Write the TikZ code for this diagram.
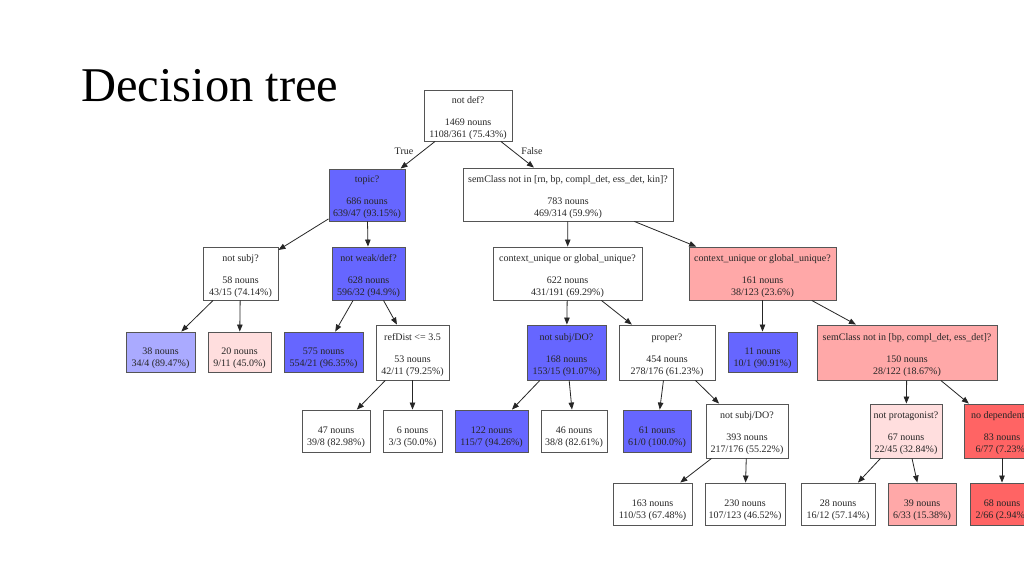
\documentclass[tikz,border=0pt]{standalone}
\usepackage{fontspec}
\setmainfont{Liberation Serif}
\usetikzlibrary{arrows.meta}
\definecolor{bluedark}{RGB}{102,102,255}
\definecolor{bluelight}{RGB}{170,170,255}
\definecolor{pinkpale}{RGB}{255,222,222}
\definecolor{pinkmid}{RGB}{255,168,168}
\definecolor{reddark}{RGB}{255,100,100}
\definecolor{boxline}{RGB}{85,85,85}
\newcommand{\qtop}{\rule{0pt}{11.5pt}}
\newcommand{\ltop}{\rule{0pt}{20pt}}
\tikzset{
  tbox/.style={draw=boxline, line width=0.9pt, fill=white, inner sep=1pt, align=center,
    font=\fontsize{10}{12}\selectfont, text=black!85},
  bl/.style={tbox, fill=bluedark},
  blt/.style={tbox, fill=bluelight},
  pp/.style={tbox, fill=pinkpale},
  pm/.style={tbox, fill=pinkmid},
  rd/.style={tbox, fill=reddark},
  edge/.style={draw=black!85, line width=0.8pt, -{Triangle[length=7pt,width=5.5pt]}},
  elab/.style={font=\fontsize{10}{12}\selectfont, text=black!85, inner sep=0pt},
  title/.style={font=\fontsize{48.5}{50}\selectfont, inner sep=0pt, anchor=base west}
}
\begin{document}
\begin{tikzpicture}[x=1pt,y=-1pt]
\useasboundingbox (0,0) rectangle (1024,576);
\clip (0,0) rectangle (1024,576);
\fill[white] (0,0) rectangle (1024,576);

\node[title] (ttl) at (81,101) {Decision tree};

% level 0
\node[tbox, minimum width=88, minimum height=51] (root) at (468,115.5)
  {\qtop not def?\\[10pt]1469 nouns\\1108/361 (75.43\%)};
% level 1
\node[bl, minimum width=76, minimum height=52] (topic) at (367,195)
  {\qtop topic?\\[10pt]686 nouns\\639/47 (93.15\%)};
\node[tbox, minimum width=210, minimum height=53] (sem1) at (568,194.5)
  {\qtop semClass not in [rn, bp, compl\_det, ess\_det, kin]?\\[10pt]783 nouns\\469/314 (59.9\%)};
% level 2
\node[tbox, minimum width=75, minimum height=53] (notsubj) at (240.5,273.5)
  {\qtop not subj?\\[10pt]58 nouns\\43/15 (74.14\%)};
\node[bl, minimum width=73, minimum height=53] (weakdef) at (368.5,273.5)
  {\qtop not weak/def?\\[10pt]628 nouns\\596/32 (94.9\%)};
\node[tbox, minimum width=149, minimum height=53] (ctx1) at (567.5,273.5)
  {\qtop context\_unique or global\_unique?\\[10pt]622 nouns\\431/191 (69.29\%)};
\node[pm, minimum width=147, minimum height=53] (ctx2) at (762.5,273.5)
  {\qtop context\_unique or global\_unique?\\[10pt]161 nouns\\38/123 (23.6\%)};
% level 3
\node[blt, minimum width=69, minimum height=40] (l38) at (160.5,352)
  {\ltop 38 nouns\\34/4 (89.47\%)};
\node[pp, minimum width=63, minimum height=40] (l20) at (239.5,352)
  {\ltop 20 nouns\\9/11 (45.0\%)};
\node[bl, minimum width=79, minimum height=40] (l575) at (323.5,352)
  {\ltop 575 nouns\\554/21 (96.35\%)};
\node[tbox, minimum width=73, minimum height=55] (refdist) at (412.5,352.5)
  {\qtop refDist <= 3.5\\[10pt]53 nouns\\42/11 (79.25\%)};
\node[bl, minimum width=79, minimum height=55] (subjdo1) at (566.5,352.5)
  {\qtop not subj/DO?\\[10pt]168 nouns\\153/15 (91.07\%)};
\node[tbox, minimum width=96, minimum height=55] (proper) at (667,352.5)
  {\qtop proper?\\[10pt]454 nouns\\278/176 (61.23\%)};
\node[bl, minimum width=69, minimum height=40] (l11) at (762.5,352)
  {\ltop 11 nouns\\10/1 (90.91\%)};
\node[pm, minimum width=180, minimum height=55] (sem2) at (907,352.5)
  {\qtop semClass not in [bp, compl\_det, ess\_det]?\\[10pt]150 nouns\\28/122 (18.67\%)};
% level 4
\node[tbox, minimum width=68, minimum height=42] (l47) at (336,431)
  {\ltop 47 nouns\\39/8 (82.98\%)};
\node[tbox, minimum width=59, minimum height=42] (l6) at (412.5,431)
  {\ltop 6 nouns\\3/3 (50.0\%)};
\node[bl, minimum width=73, minimum height=42] (l122) at (491.5,431)
  {\ltop 122 nouns\\115/7 (94.26\%)};
\node[tbox, minimum width=66, minimum height=42] (l46) at (574,431)
  {\ltop 46 nouns\\38/8 (82.61\%)};
\node[bl, minimum width=68, minimum height=42] (l61) at (657,431)
  {\ltop 61 nouns\\61/0 (100.0\%)};
\node[tbox, minimum width=82, minimum height=54] (subjdo2) at (747,431)
  {\qtop not subj/DO?\\[10pt]393 nouns\\217/176 (55.22\%)};
\node[pp, minimum width=72, minimum height=54] (prot) at (906,431)
  {\qtop not protagonist?\\[10pt]67 nouns\\22/45 (32.84\%)};
\node[rd, minimum width=76, minimum height=54] (nodep) at (1002,431)
  {\qtop no dependents?\\[10pt]83 nouns\\6/77 (7.23\%)};
% level 5
\node[tbox, minimum width=79, minimum height=42] (l163) at (652.5,504)
  {\ltop 163 nouns\\110/53 (67.48\%)};
\node[tbox, minimum width=80, minimum height=42] (l230) at (745,504)
  {\ltop 230 nouns\\107/123 (46.52\%)};
\node[tbox, minimum width=74, minimum height=42] (l28) at (838,504)
  {\ltop 28 nouns\\16/12 (57.14\%)};
\node[pm, minimum width=68, minimum height=42] (l39) at (922,504)
  {\ltop 39 nouns\\6/33 (15.38\%)};
\node[rd, minimum width=64, minimum height=42] (l68) at (1002,504)
  {\ltop 68 nouns\\2/66 (2.94\%)};

% edges
\draw[edge] (root) -- (topic);
\draw[edge] (root) -- (sem1);
\draw[edge] (topic) -- (notsubj);
\draw[edge] (topic) -- (weakdef);
\draw[edge] (sem1) -- (ctx1);
\draw[edge] (sem1) -- (ctx2);
\draw[edge] (notsubj) -- (l38);
\draw[edge] (notsubj) -- (l20);
\draw[edge] (weakdef) -- (l575);
\draw[edge] (weakdef) -- (refdist);
\draw[edge] (ctx1) -- (subjdo1);
\draw[edge] (ctx1) -- (proper);
\draw[edge] (ctx2) -- (l11);
\draw[edge] (ctx2) -- (sem2);
\draw[edge] (refdist) -- (l47);
\draw[edge] (refdist) -- (l6);
\draw[edge] (subjdo1) -- (l122);
\draw[edge] (subjdo1) -- (l46);
\draw[edge] (proper) -- (l61);
\draw[edge] (proper) -- (subjdo2);
\draw[edge] (sem2) -- (prot);
\draw[edge] (sem2) -- (nodep);
\draw[edge] (subjdo2) -- (l163);
\draw[edge] (subjdo2) -- (l230);
\draw[edge] (prot) -- (l28);
\draw[edge] (prot) -- (l39);
\draw[edge] (nodep) -- (l68);

\node[elab] (ltrue) at (404,151) {True};
\node[elab] (lfalse) at (532,151) {False};
\end{tikzpicture}
\end{document}
